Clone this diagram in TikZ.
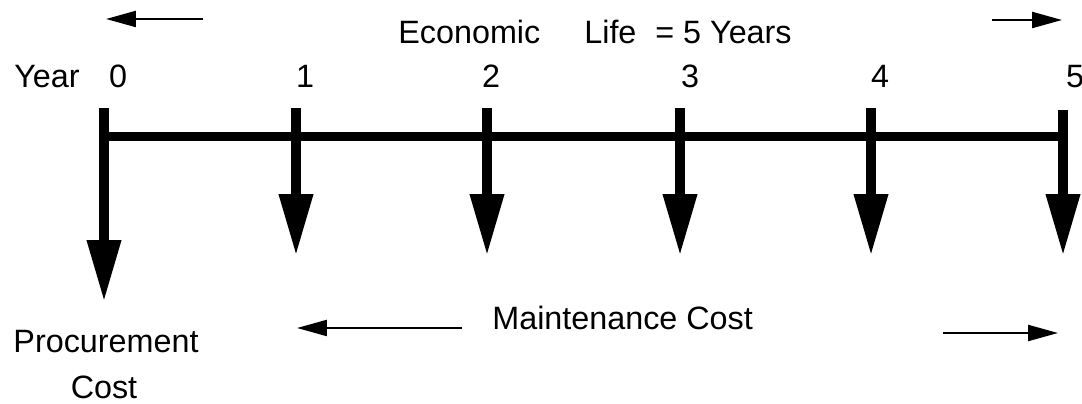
\documentclass[tikz,border=0pt]{standalone}
\usepackage{fontspec}
\setmainfont{Liberation Sans}
\usetikzlibrary{arrows.meta}
\begin{document}
\begin{tikzpicture}[x=0.02cm,y=-0.02cm,
  lbl/.style={inner sep=0pt,font=\fontsize{18.4}{22}\selectfont},
  bigarrow/.style={line width=0.2cm,-{Triangle[length=1.24cm,width=0.64cm]}},
  smallarrow/.style={line width=0.045cm,-{Triangle[length=0.6cm,width=0.32cm]}},
  bar/.style={line width=0.18cm}]
\useasboundingbox (0,0) rectangle (1082,404);
% timeline bar
\coordinate (b0) at (100,137);
\coordinate (b5) at (1062,137);
\draw[bar] (b0) -- (b5);
% ticks and arrows
\foreach \i/\x/\t/\p in {0/104/302/108,1/296/256/108,2/487/256/108,3/680/256/108,4/871/256/108,5/1063/256/110}{
  \coordinate (t\i) at (\x,\p);
  \coordinate (p\i) at (\x,\t);
  \draw[bigarrow] (t\i) -- (p\i);
}
% labels
\node[lbl,anchor=base west] (year) at (14,88) {Year};
\foreach \i/\x in {0/118,1/305,2/491,3/690,4/880,5/1075}{
  \node[lbl,anchor=base] (n\i) at (\x,88) {\i};
}
\node[lbl,anchor=base west] (eco) at (398,44) {Economic};
\node[lbl,anchor=base west] (life) at (584,44) {Life};
\node[lbl,anchor=base west] (eq) at (655,44) {= 5 Years};
\coordinate (tl1) at (203,19);
\coordinate (tl2) at (106,19);
\draw[smallarrow] (tl1) -- (tl2);
\coordinate (tr1) at (992,20);
\coordinate (tr2) at (1062,20);
\draw[smallarrow] (tr1) -- (tr2);
\node[lbl,anchor=base west] (maint) at (492,330) {Maintenance Cost};
\coordinate (ml1) at (462,328);
\coordinate (ml2) at (297,328);
\draw[smallarrow] (ml1) -- (ml2);
\coordinate (mr1) at (943,333);
\coordinate (mr2) at (1058,333);
\draw[smallarrow] (mr1) -- (mr2);
\node[lbl,anchor=base] (proc) at (106,353) {Procurement};
\node[lbl,anchor=base] (cost) at (104,399) {Cost};
\end{tikzpicture}
\end{document}
